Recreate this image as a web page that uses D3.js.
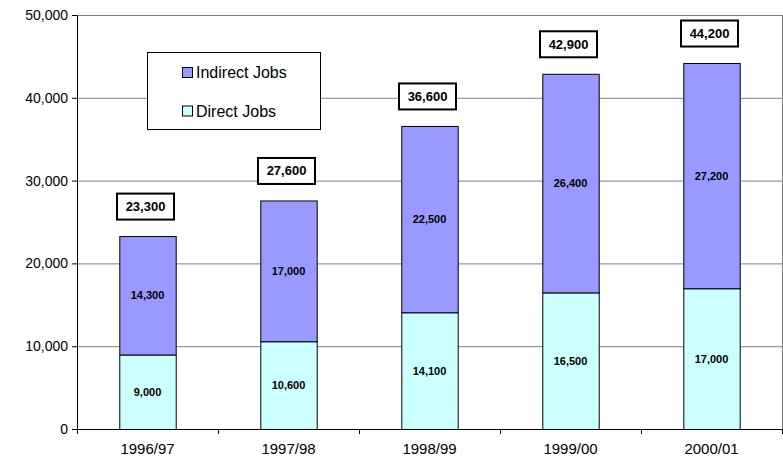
<!DOCTYPE html>
<html lang="en">
  <head>
    <meta charset="UTF-8" />
    <title>Jobs</title>
    <script src="https://cdn.jsdelivr.net/npm/d3@7"></script>
    <style>
      body {
        margin: 0;
        padding: 0;
        background: #fff;
      }
      svg text {
        font-family: "Liberation Sans", Arial, Helvetica, sans-serif;
      }
    </style>
  </head>
  <body>
    <svg id="chart" width="783" height="458"></svg>
    <script>
      const years = ["1996/97", "1997/98", "1998/99", "1999/00", "2000/01"];
      const directJobs = [9000, 10600, 14100, 16500, 17000];
      const indirectJobs = [14300, 17000, 22500, 26400, 27200];
      const totals = [23300, 27600, 36600, 42900, 44200];
      const yTicks = [0, 10000, 20000, 30000, 40000, 50000];

      const margin = { top: 15, right: 1, bottom: 29, left: 77 };
      const width = 783 - margin.left - margin.right;
      const height = 458 - margin.top - margin.bottom;

      const svg = d3.select("#chart");
      const g = svg
        .append("g")
        .attr("transform", `translate(${margin.left},${margin.top})`);

      const x = d3
        .scaleBand()
        .domain(years)
        .range([0, width])
        .paddingInner(0.6)
        .paddingOuter(0.3);
      const y = d3.scaleLinear().domain([0, 50000]).range([height, 0]);
      const fmt = d3.format(",");

      // gridlines
      g.selectAll(".grid")
        .data(yTicks.slice(1))
        .enter()
        .append("line")
        .attr("x1", 0)
        .attr("x2", width)
        .attr("y1", (d) => y(d) + 0.5)
        .attr("y2", (d) => y(d) + 0.5)
        .attr("stroke", "#808080")
        .attr("stroke-width", 1);

      // right border of plot area
      g.append("line")
        .attr("x1", width + 0.5)
        .attr("x2", width + 0.5)
        .attr("y1", 0)
        .attr("y2", height)
        .attr("stroke", "#808080");

      // y axis
      const yAxis = g
        .append("g")
        .call(
          d3.axisLeft(y).tickValues(yTicks).tickFormat(fmt).tickSize(5).tickSizeOuter(0)
        );
      yAxis.attr("font-family", null);
      yAxis.select(".domain").attr("stroke", "#000");
      yAxis.selectAll("text").attr("font-size", 14).attr("fill", "#000").attr("dx", -1);

      // x axis with ticks between categories
      const xAxis = g.append("g").attr("transform", `translate(0,${height})`);
      xAxis
        .append("line")
        .attr("x1", 0)
        .attr("x2", width)
        .attr("y1", 0.5)
        .attr("y2", 0.5)
        .attr("stroke", "#000");
      const step = x.step();
      xAxis
        .selectAll(".xtick")
        .data(d3.range(years.length + 1))
        .enter()
        .append("line")
        .attr("x1", (i) => i * step + 0.5)
        .attr("x2", (i) => i * step + 0.5)
        .attr("y1", 0)
        .attr("y2", 5)
        .attr("stroke", "#000");
      xAxis
        .selectAll(".xlabel")
        .data(years)
        .enter()
        .append("text")
        .attr("x", (d) => x(d) + x.bandwidth() / 2)
        .attr("y", 25)
        .attr("text-anchor", "middle")
        .attr("font-size", 15)
        .text((d) => d);

      // stacked bars
      const series = [
        { name: "Direct Jobs", values: directJobs, base: years.map(() => 0), color: "#ccffff" },
        { name: "Indirect Jobs", values: indirectJobs, base: directJobs, color: "#9999ff" },
      ];

      series.forEach((s) => {
        g.selectAll(null)
          .data(years)
          .enter()
          .append("rect")
          .attr("x", (d) => x(d) + 0.5)
          .attr("y", (d, i) => y(s.base[i] + s.values[i]) + 0.5)
          .attr("width", x.bandwidth())
          .attr("height", (d, i) => y(s.base[i]) - y(s.base[i] + s.values[i]))
          .attr("fill", s.color)
          .attr("stroke", "#000")
          .attr("stroke-width", 1);

        g.selectAll(null)
          .data(years)
          .enter()
          .append("text")
          .attr("x", (d) => x(d) + x.bandwidth() / 2)
          .attr("y", (d, i) => y(s.base[i] + s.values[i] / 2) + 4)
          .attr("text-anchor", "middle")
          .attr("font-size", 11)
          .attr("font-weight", "bold")
          .text((d, i) => fmt(s.values[i]));
      });

      // total labels in boxes
      const totalG = g
        .selectAll(".total")
        .data(years)
        .enter()
        .append("g")
        .attr("transform", (d, i) => `translate(${x(d) + x.bandwidth() / 2 - 2},${y(totals[i]) - 43})`);
      totalG
        .append("rect")
        .attr("x", -28.5)
        .attr("y", 0.5)
        .attr("width", 57)
        .attr("height", 26)
        .attr("fill", "#fff")
        .attr("stroke", "#000")
        .attr("stroke-width", 2);
      totalG
        .append("text")
        .attr("x", 0)
        .attr("y", 18)
        .attr("text-anchor", "middle")
        .attr("font-size", 13)
        .attr("font-weight", "bold")
        .text((d, i) => fmt(totals[i]));

      // legend
      const legend = svg.append("g").attr("transform", "translate(147,52)");
      legend
        .append("rect")
        .attr("x", 0.5)
        .attr("y", 0.5)
        .attr("width", 173)
        .attr("height", 77)
        .attr("fill", "#fff")
        .attr("stroke", "#000");
      const legendItems = [series[1], series[0]];
      legendItems.forEach((s, i) => {
        legend
          .append("rect")
          .attr("x", 35.5)
          .attr("y", 15.5 + i * 38.5)
          .attr("width", 10)
          .attr("height", 10)
          .attr("fill", s.color)
          .attr("stroke", "#000");
        legend
          .append("text")
          .attr("x", 49)
          .attr("y", 26 + i * 38.5)
          .attr("font-size", 16)
          .text(s.name);
      });
    </script>
  </body>
</html>
